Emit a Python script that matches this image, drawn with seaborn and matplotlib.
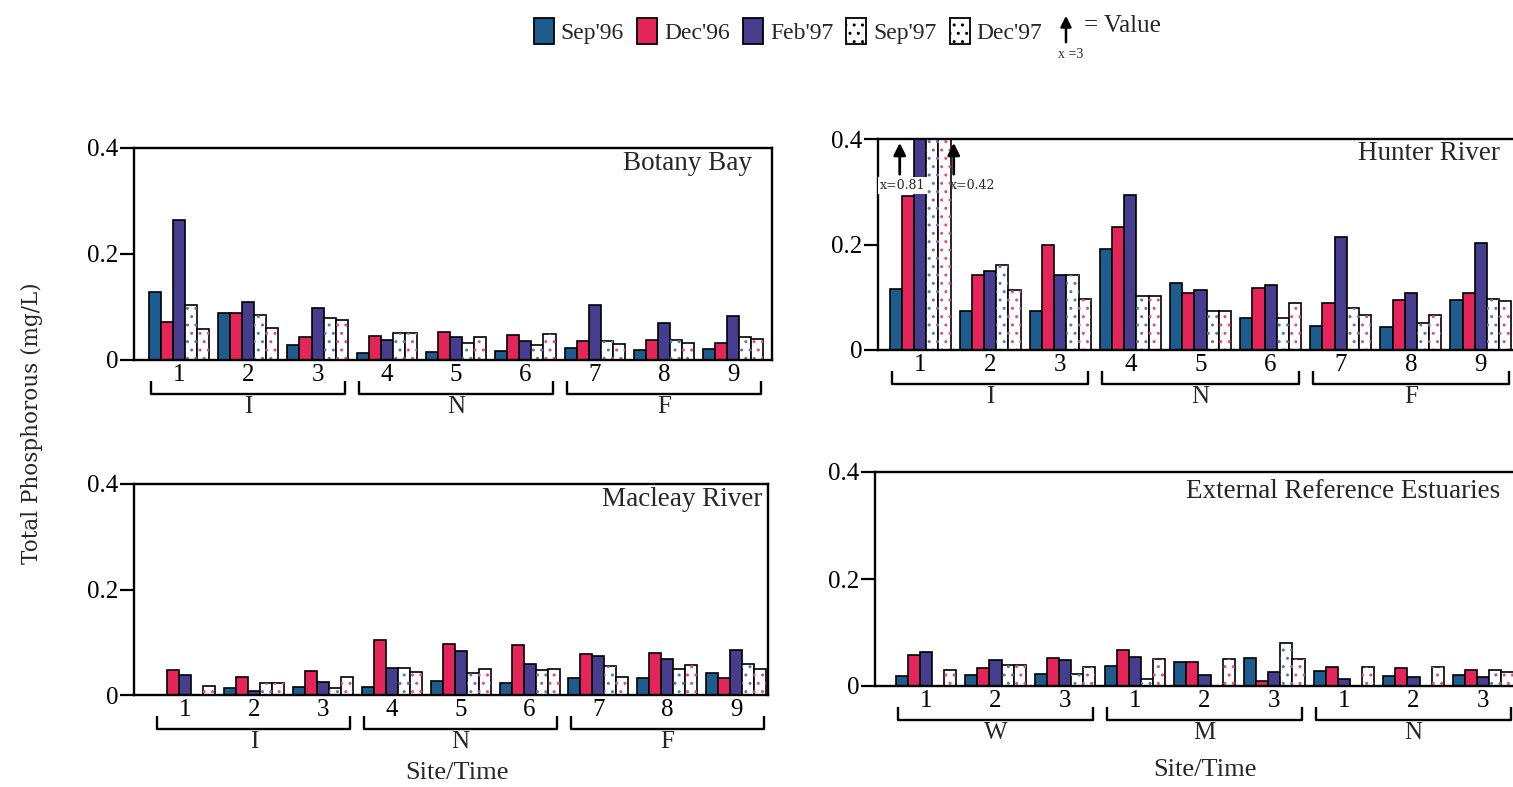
import matplotlib
matplotlib.use("Agg")
import matplotlib.pyplot as plt
import pandas as pd
import seaborn as sns
from matplotlib.patches import Patch, Rectangle, FancyArrowPatch
from matplotlib.transforms import blended_transform_factory

# ---- data -----------------------------------------------------------------
surveys = ["Sep'96", "Dec'96", "Feb'97", "Sep'97", "Dec'97"]
estuary_sites = ["1", "2", "3", "4", "5", "6", "7", "8", "9"]
estuary_groups = ["I", "N", "F"]
external_sites = ["W1", "W2", "W3", "M1", "M2", "M3", "N1", "N2", "N3"]
external_ticks = ["1", "2", "3", "1", "2", "3", "1", "2", "3"]
external_groups = ["W", "M", "N"]

botany = {
    "Sep'96": [0.129, 0.088, 0.029, 0.014, 0.016, 0.017, 0.022, 0.019, 0.021],
    "Dec'96": [0.072, 0.088, 0.044, 0.045, 0.052, 0.048, 0.036, 0.038, 0.033],
    "Feb'97": [0.264, 0.109, 0.098, 0.038, 0.043, 0.036, 0.103, 0.069, 0.083],
    "Sep'97": [0.104, 0.084, 0.079, 0.051, 0.033, 0.028, 0.036, 0.038, 0.043],
    "Dec'97": [0.059, 0.061, 0.075, 0.051, 0.043, 0.049, 0.031, 0.033, 0.039],
}
hunter = {
    "Sep'96": [0.116, 0.073, 0.074, 0.191, 0.127, 0.060, 0.046, 0.044, 0.094],
    "Dec'96": [0.292, 0.143, 0.200, 0.234, 0.108, 0.117, 0.089, 0.094, 0.108],
    "Feb'97": [0.81, 0.150, 0.143, 0.293, 0.113, 0.124, 0.214, 0.108, 0.203],
    "Sep'97": [0.40, 0.162, 0.143, 0.102, 0.073, 0.060, 0.079, 0.051, 0.096],
    "Dec'97": [0.42, 0.113, 0.097, 0.102, 0.073, 0.089, 0.067, 0.067, 0.092],
}
macleay = {
    "Sep'96": [0.000, 0.014, 0.016, 0.016, 0.027, 0.022, 0.033, 0.033, 0.041],
    "Dec'96": [0.047, 0.034, 0.046, 0.105, 0.097, 0.094, 0.078, 0.079, 0.033],
    "Feb'97": [0.038, 0.008, 0.024, 0.052, 0.084, 0.059, 0.074, 0.069, 0.086],
    "Sep'97": [0.000, 0.022, 0.014, 0.052, 0.041, 0.047, 0.055, 0.049, 0.059],
    "Dec'97": [0.017, 0.022, 0.034, 0.044, 0.050, 0.050, 0.034, 0.057, 0.050],
}
external = {
    "Sep'96": [0.019, 0.021, 0.022, 0.038, 0.044, 0.052, 0.028, 0.019, 0.021],
    "Dec'96": [0.058, 0.033, 0.052, 0.068, 0.044, 0.010, 0.036, 0.033, 0.030],
    "Feb'97": [0.064, 0.048, 0.049, 0.055, 0.021, 0.027, 0.014, 0.016, 0.017],
    "Sep'97": [0.000, 0.040, 0.022, 0.013, 0.000, 0.080, 0.000, 0.000, 0.030],
    "Dec'97": [0.029, 0.040, 0.036, 0.051, 0.051, 0.050, 0.036, 0.036, 0.027],
}

# ---- style ----------------------------------------------------------------
fill_colors = {"Sep'96": "#1d5c8e", "Dec'96": "#e5245a", "Feb'97": "#463d8f",
               "Sep'97": "white", "Dec'97": "white"}
dot_colors = {"Sep'97": "#5a78b8", "Dec'97": "#e0507a"}

sns.set_theme(style="white")
plt.rcParams["font.family"] = ["Liberation Serif", "DejaVu Serif"]
plt.rcParams["hatch.linewidth"] = 1.0

W, H = 1513, 787
fig = plt.figure(figsize=(W / 100, H / 100), dpi=100)

TICK_FS = 18
GROUP_FS = 18
TITLE_FS = 19.5


def long_frame(values, sites):
    rows = []
    for s in surveys:
        for site, v in zip(sites, values[s]):
            rows.append({"site": site, "survey": s, "value": v})
    return pd.DataFrame(rows)


def panel(box, values, sites, ticks, groups, xlim, title, title_xy):
    left, zero_y, right, top_y = box
    ax = fig.add_axes([left / W, 1 - zero_y / H, (right - left) / W, (zero_y - top_y) / H])
    df = long_frame(values, sites)
    sns.barplot(data=df, x="site", y="value", hue="survey", order=sites,
                hue_order=surveys, palette=fill_colors, saturation=1,
                width=0.87, edgecolor="black", linewidth=1.2, legend=False, ax=ax)
    # dotted fill for the two later surveys
    for s, container in zip(surveys, ax.containers):
        if s in dot_colors:
            for bar in container:
                ax.add_patch(Rectangle(bar.get_xy(), bar.get_width(), bar.get_height(),
                                       fill=False, hatch="..", edgecolor=dot_colors[s],
                                       linewidth=0, zorder=bar.get_zorder() + 0.1))
    ax.set_ylim(0, 0.4)
    ax.set_xlim(*xlim)
    ax.set_yticks([0, 0.2, 0.4])
    ax.set_yticklabels(["0", "0.2", "0.4"])
    ax.set_xticks(range(len(sites)))
    ax.set_xticklabels(ticks)
    ax.set_xlabel("")
    ax.set_ylabel("")
    ax.tick_params(axis="y", left=True, length=10, width=1.6, pad=1, labelsize=TICK_FS,
                   color="black", labelcolor="black")
    ax.tick_params(axis="x", bottom=False, length=0, pad=3, labelsize=TICK_FS,
                   labelcolor="black")
    for sp in ax.spines.values():
        sp.set_visible(True)
        sp.set_color("black")
        sp.set_linewidth(1.7)
    ax.grid(False)
    ax.set_facecolor("white")

    # site-group brackets under the tick labels
    h_px = zero_y - top_y
    trans = blended_transform_factory(ax.transData, ax.transAxes)
    yb = -34 / h_px
    ye = -21 / h_px
    for g, name in enumerate(groups):
        a, b = 3 * g - 0.4, 3 * g + 2.4
        ax.plot([a, a, b, b], [ye, yb, yb, ye], color="black", lw=1.7,
                transform=trans, clip_on=False, solid_capstyle="butt")
        ax.text(3 * g + 1, -47 / h_px, name, transform=trans, ha="center",
                va="center", fontsize=GROUP_FS)
    fig.text(title_xy[0] / W, 1 - title_xy[1] / H, title, ha="right",
             va="center", fontsize=TITLE_FS)
    return ax


ax_tl = panel((134, 360, 772, 148), botany, estuary_sites, estuary_sites,
              estuary_groups, (-0.65, 8.56), "Botany Bay", (752, 164))
ax_tr = panel((878, 350, 1523, 139), hunter, estuary_sites, estuary_sites,
              estuary_groups, (-0.6, 8.6), "Hunter River", (1500, 153))
ax_bl = panel((134, 695, 768, 484), macleay, estuary_sites, estuary_sites,
              estuary_groups, (-0.74, 8.46), "Macleay River", (762, 500))
ax_br = panel((875, 686, 1525, 472), external, external_sites, external_ticks,
              external_groups, (-0.73, 8.6), "External Reference Estuaries", (1500, 491))

# off-scale values at Hunter River site 1
feb_site1 = hunter["Feb'97"][0]
dec_site1 = hunter["Dec'97"][0]
ax_tr.text(-0.25, 0.312, f"x={feb_site1:.2f}", ha="center", va="center", fontsize=9,
           family="DejaVu Serif", zorder=6,
           bbox=dict(facecolor="white", edgecolor="none", pad=1.5))
ax_tr.text(0.43, 0.312, f"x={dec_site1:.2f}", ha="left", va="center", fontsize=9,
           family="DejaVu Serif", zorder=6)
for xa in (-0.29, 0.48):
    ax_tr.annotate("", xy=(xa, 0.398), xytext=(xa, 0.328),
                   arrowprops=dict(arrowstyle="-|>", color="black", lw=2.0,
                                   mutation_scale=18), zorder=7)

# shared axis titles
fig.text(32 / W, 1 - 423 / H, "Total Phosphorous (mg/L)", rotation=90,
         ha="center", va="center", fontsize=15.5, family="DejaVu Serif")
fig.text(457 / W, 1 - 773 / H, "Site/Time", ha="center", va="center", fontsize=19)
fig.text(1205 / W, 1 - 770 / H, "Site/Time", ha="center", va="center", fontsize=19)

# legend
handles = [Patch(facecolor=fill_colors[s], edgecolor="black", linewidth=1.3,
                 hatch=".." if s in dot_colors else None) for s in surveys]
fig.legend(handles, surveys, loc="center", bbox_to_anchor=(788 / W, 1 - 31 / H),
           ncol=5, frameon=False, fontsize=17, handlelength=0.85, handleheight=1.35,
           handletextpad=0.3, columnspacing=0.55)
fig.add_artist(FancyArrowPatch((1066 / W, 1 - 45 / H), (1066 / W, 1 - 13 / H),
                               transform=fig.transFigure, arrowstyle="-|>",
                               mutation_scale=16, lw=1.8, color="black"))
fig.text(1084 / W, 1 - 26 / H, "= Value", ha="left", va="center", fontsize=18)
fig.text(1071 / W, 1 - 54 / H, "x =3", ha="center", va="center", fontsize=10)

fig.savefig("out.png", dpi=100, facecolor="white")
